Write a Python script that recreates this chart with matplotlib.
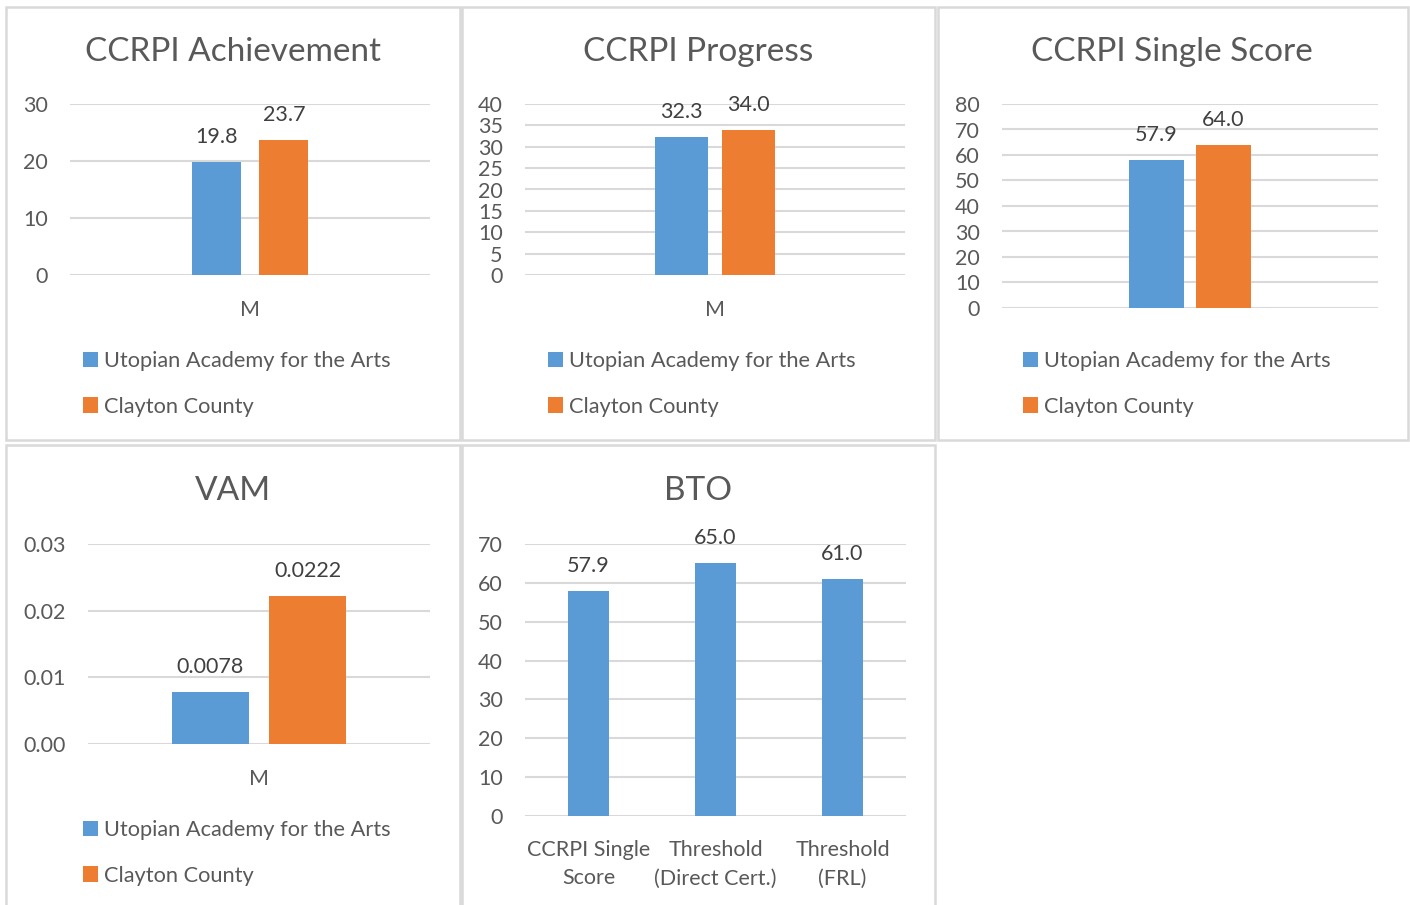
import numpy as np
import matplotlib.pyplot as plt
from matplotlib.patches import Rectangle

plt.rcParams['font.family'] = ['Lato', 'DejaVu Sans']

W, H = 1410, 905
BLUE = '#5b9bd5'
ORANGE = '#ed7d31'
TXT = '#595959'
GRID = '#d9d9d9'
FS = 15.5

series = ['Utopian Academy for the Arts', 'Clayton County']

ach_vals = [19.8, 23.7]
prog_vals = [32.3, 34.0]
single_vals = [57.9, 64.0]
vam_vals = [0.0078, 0.0222]
vam_labels = ['0.0078', '0.0222']

bto_cats = ['CCRPI Single\nScore', 'Threshold\n(Direct Cert.)', 'Threshold\n(FRL)']
bto_vals = [57.9, 65.0, 61.0]

fig = plt.figure(figsize=(W / 100, H / 100), dpi=100)


def box(x0, y0, x1, y1):
    fig.patches.append(Rectangle((x0 / W, 1 - y1 / H), (x1 - x0) / W, (y1 - y0) / H,
                                 transform=fig.transFigure, fill=False,
                                 edgecolor=GRID, linewidth=1.8))


def make_ax(x0, x1, ytop, ybot):
    ax = fig.add_axes([x0 / W, 1 - ybot / H, (x1 - x0) / W, (ybot - ytop) / H])
    for s in ax.spines.values():
        s.set_visible(False)
    ax.set_facecolor('none')
    ax.tick_params(length=0, labelsize=FS, labelcolor=TXT)
    ax.tick_params(axis='y', pad=16)
    ax.yaxis.grid(True, color=GRID, linewidth=1.5)
    ax.set_axisbelow(True)
    return ax


def title(x, y, t):
    fig.text(x / W, 1 - y / H, t, ha='center', va='center', fontsize=24, color=TXT)


def legend(handles, x, y):
    leg = fig.legend(handles, series, loc='upper left', bbox_to_anchor=(x / W, 1 - y / H),
                     frameon=False, fontsize=15.7, handlelength=0.7, handleheight=0.7,
                     handletextpad=0.25, labelspacing=1.17, borderaxespad=0, borderpad=0)
    for t in leg.get_texts():
        t.set_color(TXT)


def value_label(ax, x, v, s):
    ax.annotate(s, (x, v), xytext=(0, 18), textcoords='offset points',
                ha='center', va='center', fontsize=FS, color='#404040')


def pair_panel(ax, vals, ymax, step, width, off, labels=None, show_m=True):
    b1 = ax.bar([-off], [vals[0]], width, color=BLUE)
    b2 = ax.bar([off], [vals[1]], width, color=ORANGE)
    if labels is None:
        labels = [f'{v:.1f}' for v in vals]
    for xx, v, l in zip([-off, off], vals, labels):
        value_label(ax, xx, v, l)
    ax.set_xlim(-0.5, 0.5)
    ax.set_ylim(0, ymax)
    ax.set_yticks(np.arange(0, ymax + step / 2, step))
    ax.set_xticks([0] if show_m else [])
    ax.set_xticklabels(['M'] if show_m else [])
    ax.tick_params(axis='x', pad=18)
    return [b1, b2]


# borders
box(6, 7, 460, 440)
box(462, 7, 935, 440)
box(938, 7, 1408, 440)
box(6, 445, 460, 912)
box(462, 445, 935, 912)

# CCRPI Achievement
ax1 = make_ax(70, 430, 104, 275)
h = pair_panel(ax1, ach_vals, 30, 10, 0.136, 0.094)
title(233, 52, 'CCRPI Achievement')
legend(h, 83, 351)

# CCRPI Progress
ax2 = make_ax(525, 905, 104, 275)
h = pair_panel(ax2, prog_vals, 40, 5, 0.139, 0.088)
title(698, 52, 'CCRPI Progress')
legend(h, 548, 351)

# CCRPI Single Score
ax3 = make_ax(1002, 1378, 104, 308)
h = pair_panel(ax3, single_vals, 80, 10, 0.144, 0.089, show_m=False)
title(1172, 52, 'CCRPI Single Score')
legend(h, 1023, 351)

# VAM
ax4 = make_ax(88, 430, 544, 744)
h = pair_panel(ax4, vam_vals, 0.03, 0.01, 0.225, 0.143, labels=vam_labels)
ax4.set_yticklabels(['0.00', '0.01', '0.02', '0.03'])
title(233, 491, 'VAM')
legend(h, 83, 820)

# BTO
ax5 = make_ax(525, 906, 544, 816)
xs = np.arange(len(bto_cats))
ax5.bar(xs, bto_vals, 0.315, color=BLUE)
for xx, v in zip(xs, bto_vals):
    value_label(ax5, xx, v, f'{v:.1f}')
ax5.set_xlim(-0.5, 2.5)
ax5.set_ylim(0, 70)
ax5.set_yticks(np.arange(0, 71, 10))
ax5.set_xticks(xs)
ax5.set_xticklabels(bto_cats, linespacing=1.55)
ax5.tick_params(axis='x', pad=17)
title(698, 491, 'BTO')

fig.savefig('out.png', dpi=100, facecolor='white')
